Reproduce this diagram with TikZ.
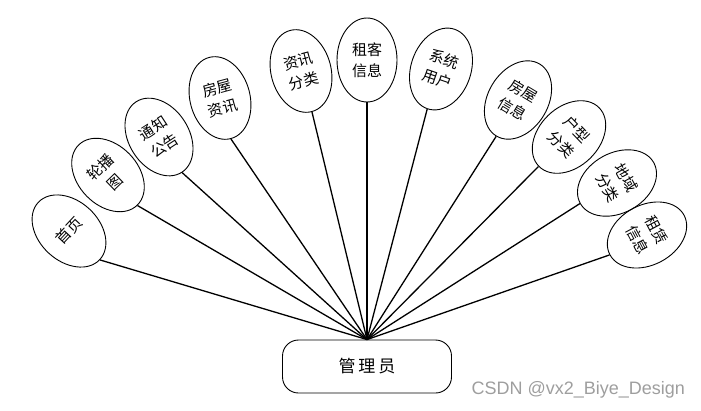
\documentclass[tikz,border=0pt]{standalone}
\usepackage{fontspec}
\newfontfamily\cjk{Noto Sans CJK SC}
\newfontfamily\wmfont{Liberation Sans}
\usepackage{tikz}
\usetikzlibrary{shapes.geometric}

\begin{document}
\begin{tikzpicture}[
        x=1pt, y=-1pt,
        func/.style={ellipse, draw=black, line width=0.9pt, minimum width=60pt, minimum height=84pt,
            inner sep=0pt, align=center, font=\cjk\fontsize{15}{21}\selectfont},
        role/.style={rounded corners=16pt, draw=black, line width=0.9pt, minimum width=169pt,
            minimum height=53pt, font=\cjk\fontsize{17}{20}\selectfont},
        link/.style={line width=1.3pt, black},
    ]
    \useasboundingbox (0,0) rectangle (701,410);
    % ADMIN
    \node[role] (admin) at (367,366.5) {管\,理\,员};
    % LEFT FUNCTIONS
    \node[func, rotate=47] (shouye) at (69,231) {首页};
    \node[func, rotate=44] (lunbo) at (108,175) {轮播\\图};
    \node[func, rotate=33] (tongzhi) at (159,137) {通知\\公告};
    \node[func, rotate=15] (fwzx) at (220,98) {房屋\\资讯};
    \node[func, rotate=15] (zxfl) at (301,71) {资讯\\分类};
    % MIDDLE
    \node[func] (zkxx) at (367,60) {租客\\信息};
    % RIGHT FUNCTIONS
    \node[func, rotate=-19] (xtyh) at (441,69) {系统\\用户};
    \node[func, rotate=-31] (fwxx) at (518,100) {房屋\\信息};
    \node[func, rotate=-46] (hxfl) at (569,137) {户型\\分类};
    \node[func, rotate=-61] (dyfl) at (617,183) {地域\\分类};
    \node[func, rotate=-62] (zlxx) at (647,235) {租赁\\信息};
    \foreach \f in {shouye,lunbo,tongzhi,fwzx,zxfl,zkxx,xtyh,fwxx,hxfl,dyfl,zlxx}
        \draw[link] (\f.south) -- (admin.north);
    % watermark
    \node[font=\wmfont\fontsize{18}{20}\selectfont, text=black!38, anchor=west] (mark) at (468,390) {CSDN @vx2\_Biye\_Design};
\end{tikzpicture}
\end{document}
